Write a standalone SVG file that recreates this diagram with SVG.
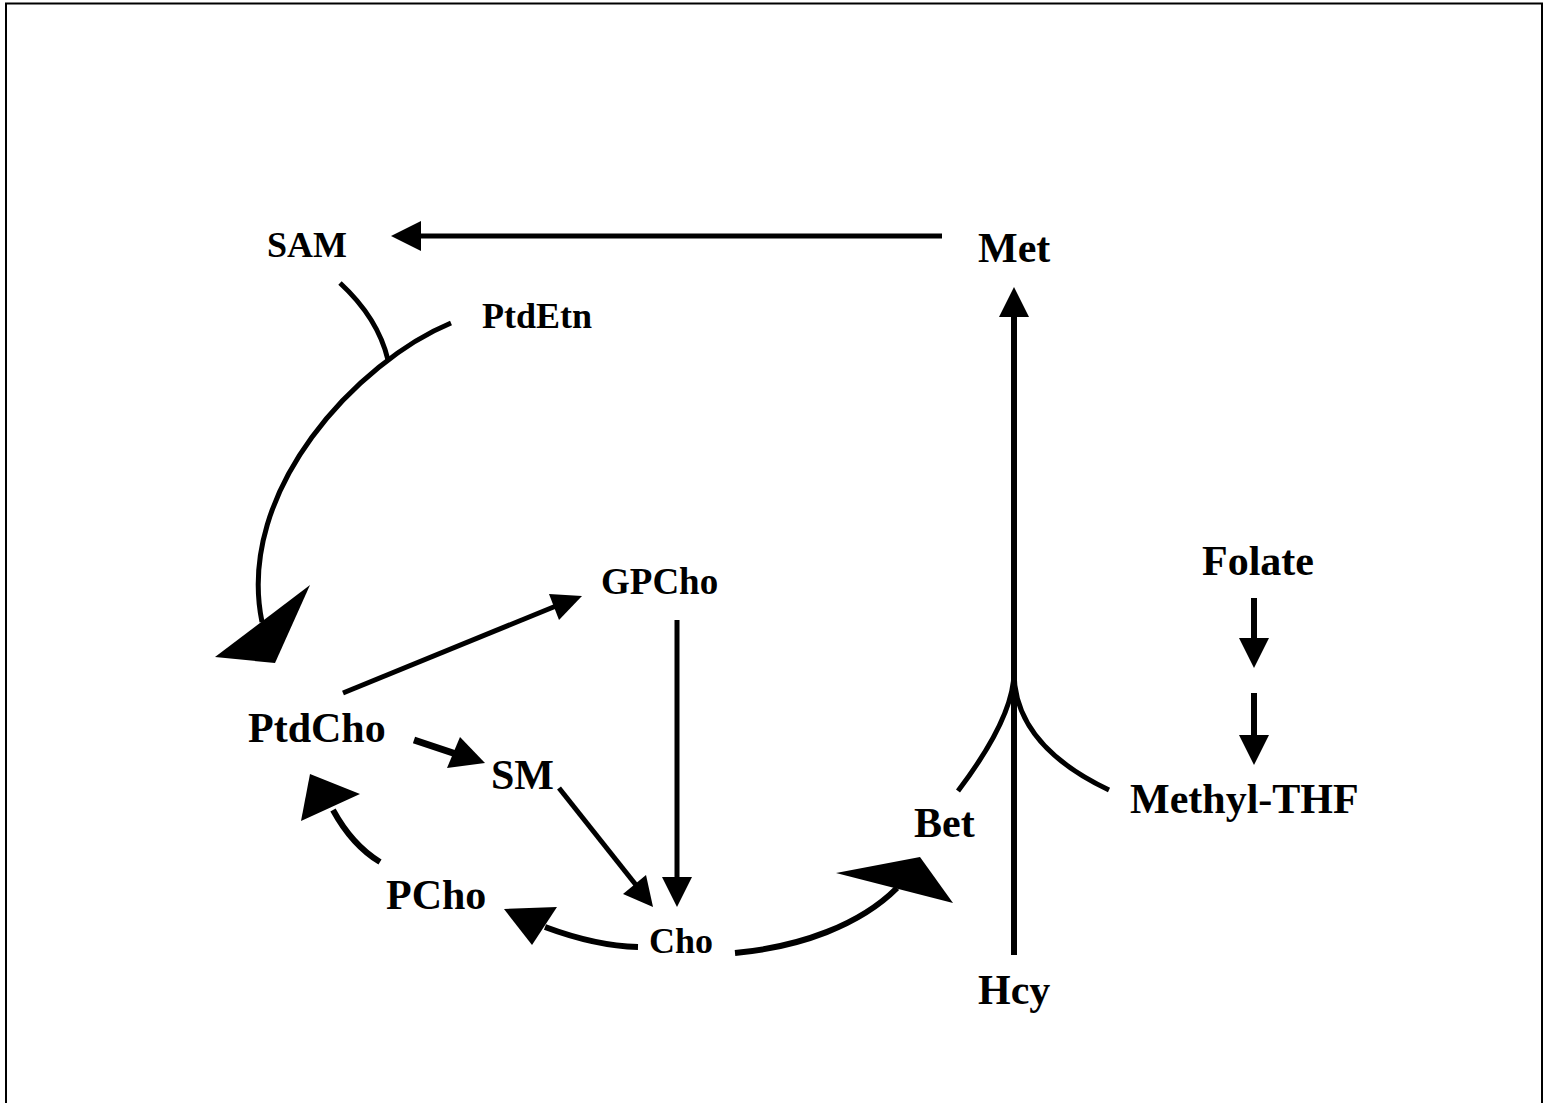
<svg xmlns="http://www.w3.org/2000/svg" width="1549" height="1103" viewBox="0 0 1549 1103">
<style>
.t{font-family:"Liberation Serif","Times New Roman",serif;font-weight:bold;fill:#000}
.s{font-size:36px}
.l{font-size:42px}
.c{fill:none;stroke:#000;stroke-width:5;stroke-linecap:butt}
.h{fill:#000;stroke:none}
</style>
<rect x="0" y="0" width="1549" height="1103" fill="#fff"/>
<rect x="6" y="3.5" width="1536" height="1200" fill="none" stroke="#000" stroke-width="2"/>
<g id="node-SAM"><text class="t s" x="267" y="257">SAM</text></g>
<g id="node-Met"><text class="t l" x="978" y="262">Met</text></g>
<g id="node-PtdEtn"><text class="t s" x="482" y="328">PtdEtn</text></g>
<g id="node-Folate"><text class="t l" x="1202" y="575">Folate</text></g>
<g id="node-GPCho"><text class="t" style="font-size:37px" x="601" y="594">GPCho</text></g>
<g id="node-PtdCho"><text class="t l" x="248" y="742">PtdCho</text></g>
<g id="node-SM"><text class="t l" x="491" y="789">SM</text></g>
<g id="node-MethylTHF"><text class="t l" x="1130" y="813">Methyl-THF</text></g>
<g id="node-Bet"><text class="t l" x="914" y="837">Bet</text></g>
<g id="node-PCho"><text class="t l" x="386" y="909">PCho</text></g>
<g id="node-Cho"><text class="t s" x="649" y="953">Cho</text></g>
<g id="node-Hcy"><text class="t l" x="978" y="1004">Hcy</text></g>
<g id="connectors">
<!-- Met -> SAM -->
<line class="c" x1="942" y1="236" x2="419" y2="236"/>
<polygon class="h" points="391,236 421,221 421,251"/>
<!-- SAM + PtdEtn -> PtdCho -->
<path class="c" d="M340,283 Q378,318 388,360"/>
<path class="c" d="M451,323 C359,361 235,490 262,622"/>
<polygon class="h" points="215,657 310,585 275,663"/>
<!-- PtdCho -> GPCho -->
<line class="c" x1="343" y1="693" x2="556" y2="606"/>
<polygon class="h" points="582,596 549,594 559,620"/>
<!-- PtdCho -> SM -->
<line class="c" style="stroke-width:7" x1="414" y1="740" x2="456" y2="754"/>
<polygon class="h" points="485,763 460,737 447,768"/>
<!-- GPCho -> Cho -->
<line class="c" x1="677" y1="620" x2="677" y2="879"/>
<polygon class="h" points="677,907 662,877 692,877"/>
<!-- SM -> Cho -->
<line class="c" x1="559" y1="788" x2="636" y2="885"/>
<polygon class="h" points="653,907 623,894 646,875"/>
<!-- Cho -> PCho -->
<path class="c" style="stroke-width:6" d="M638,947 Q596,946 545,927"/>
<polygon class="h" points="504,909 557,907 532,945"/>
<!-- PCho -> PtdCho -->
<path class="c" style="stroke-width:6" d="M380,862 Q352,845 333,810"/>
<polygon class="h" points="310,774 360,794 301,821"/>
<!-- Cho -> Bet -->
<path class="c" style="stroke-width:6" d="M735,953 C800,947 860,925 897,888"/>
<polygon class="h" points="920,857 953,903 836,873"/>
<!-- Hcy -> Met -->
<line class="c" style="stroke-width:6" x1="1014" y1="955" x2="1014" y2="315"/>
<polygon class="h" points="1014,287 999,317 1029,317"/>
<!-- Bet, Methyl-THF join -->
<path class="c" d="M958,791 Q1014,717 1014,672"/>
<path class="c" d="M1109,790 Q1014,745 1014,672"/>
<!-- Folate -> Methyl-THF -->
<line class="c" style="stroke-width:6" x1="1254" y1="598" x2="1254" y2="640"/>
<polygon class="h" points="1254,668 1239,638 1269,638"/>
<line class="c" style="stroke-width:6" x1="1254" y1="693" x2="1254" y2="737"/>
<polygon class="h" points="1254,765 1239,735 1269,735"/>
</g>
</svg>
